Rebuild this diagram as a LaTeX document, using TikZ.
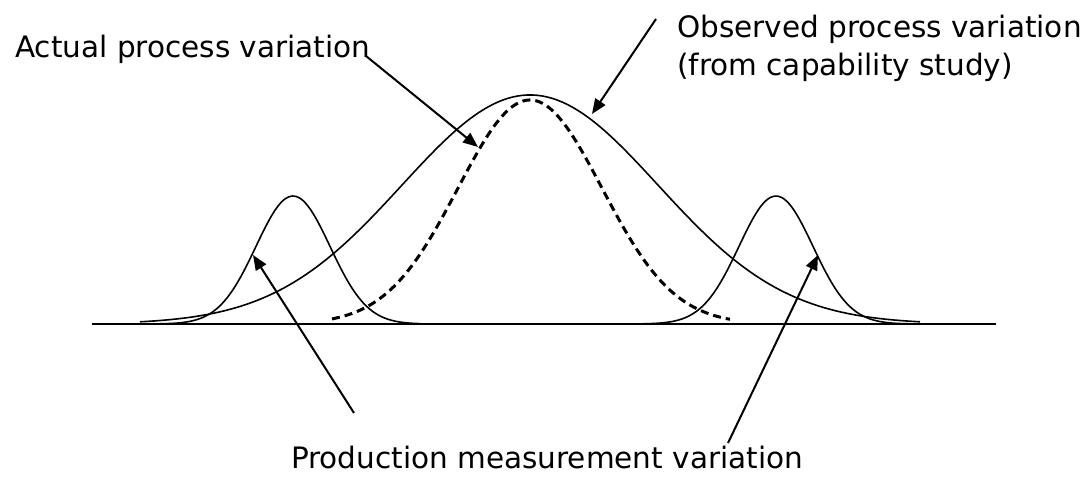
\documentclass[tikz,border=0pt]{standalone}
\usepackage{fontspec}
\setmainfont{DejaVu Sans}
\usetikzlibrary{arrows.meta}
\tikzset{
  curve/.style={line width=1.6pt, line join=round},
  actual/.style={line width=3pt, dash pattern=on 8pt off 5pt},
  lbl/.style={inner sep=0pt, font=\fontsize{29.5}{38}\selectfont, align=left},
  arr/.style={-{Triangle[length=15pt,width=12pt]}, line width=2pt}
}

\begin{document}
\begin{tikzpicture}[x=1pt, y=-1pt]
\useasboundingbox (0,0) rectangle (1089,477);
% axis and distributions
\coordinate (ax0) at (92,324);
\coordinate (ax1) at (996,324);
\draw[curve] (ax0) -- (ax1);
\draw[curve] plot[domain=140:920, samples=160, smooth] (\x, {324-229*exp(-0.5*((\x-530)/128)^2)});
\draw[curve] plot[domain=140:420, samples=80, smooth] (\x, {324-128*exp(-0.5*((\x-293)/37)^2)});
\draw[curve] plot[domain=636:916, samples=80, smooth] (\x, {324-128*exp(-0.5*((\x-776)/37)^2)});
\draw[actual] plot[domain=332:730, samples=120, smooth] (\x, {324-224*exp(-0.5*((\x-530)/72)^2)});
% labels
\node[lbl, anchor=base west] (act) at (15,57) {Actual process variation};
\node[lbl, anchor=base west] (obs) at (677,75) {Observed process variation\\(from capability study)};
\node[lbl, anchor=base] (prod) at (547,468) {Production measurement variation};
% arrows
\coordinate (actS) at (366,56);
\coordinate (actT) at (478,147);
\coordinate (obsS) at (656,19);
\coordinate (obsT) at (592,114);
\coordinate (pmL) at (354,413);
\coordinate (pmLT) at (253,255);
\coordinate (pmR) at (728,443);
\coordinate (pmRT) at (818,255);
\draw[arr] (actS) -- (actT);
\draw[arr] (obsS) -- (obsT);
\draw[arr] (pmL) -- (pmLT);
\draw[arr] (pmR) -- (pmRT);
\end{tikzpicture}
\end{document}
